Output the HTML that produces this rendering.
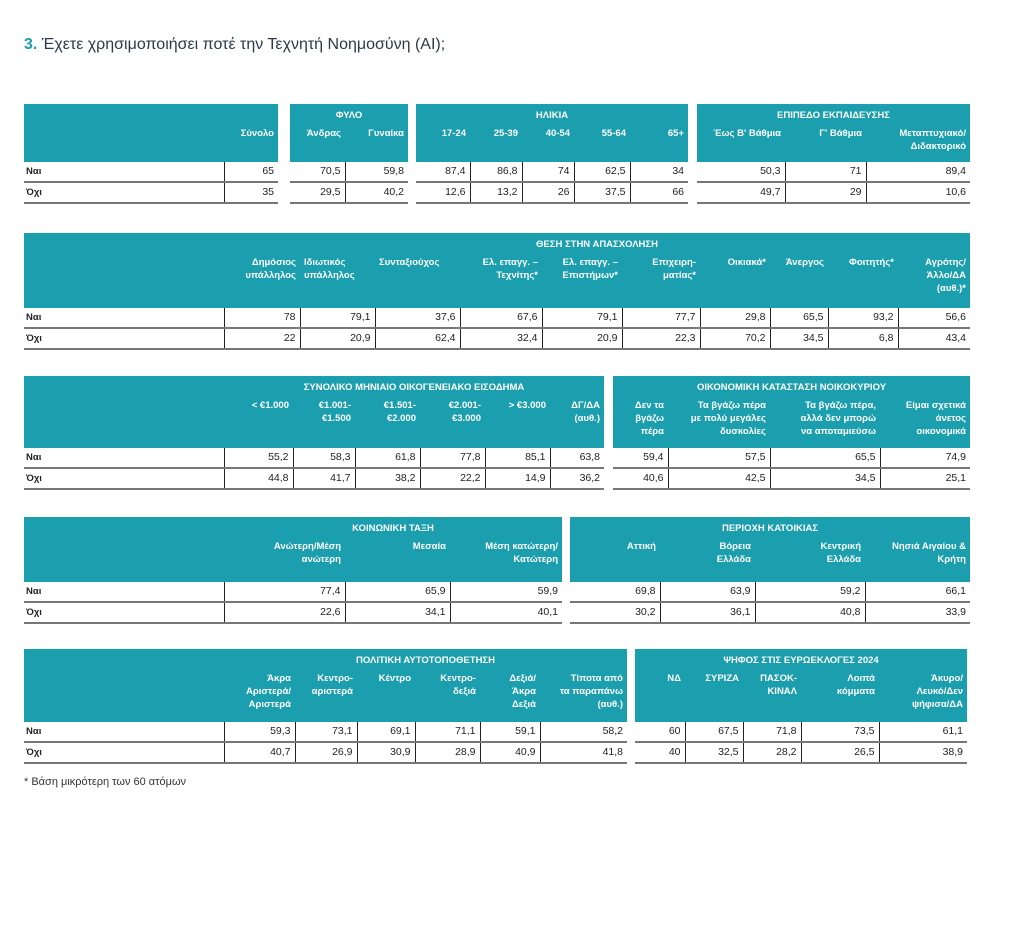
<!DOCTYPE html><html><head><meta charset="utf-8"><style>
body{margin:0;width:1024px;height:933px;background:#fff;font-family:"Liberation Sans","DejaVu Sans",sans-serif;position:relative;overflow:hidden}
.t{position:absolute;border-collapse:collapse;table-layout:fixed;font-size:10.5px;color:#222}
.t th{background:#1b9ead;color:#fff;font-weight:bold;font-size:9.5px;text-align:right;vertical-align:top;padding:4px 4px 0 4px;line-height:13px}
.t th.ti{text-align:center;padding-top:5px;height:14px;vertical-align:top}
.t td{height:19px;border-bottom:2px solid #777;border-left:1px solid #222;text-align:right;padding:0 4px;line-height:19px}
.t td:first-child{border-left:none}
.t td.l{text-align:left;font-weight:bold;font-size:9.5px;padding-left:2px}
.ttl{position:absolute;left:24px;top:36px;font-size:16px;color:#2a3a4a}
.ttl b{color:#1b9ead}
.fn{position:absolute;left:24px;top:776px;font-size:11px;color:#333}
</style></head><body>
<div class="ttl"><b>3.</b> Έχετε χρησιμοποιήσει ποτέ την Τεχνητή Νοημοσύνη (AI);</div>

<table class="t" style="left:24px;top:104px;width:254px"><colgroup><col style="width:200px"><col></colgroup>
<tr><th class="ti" colspan="2"></th></tr><tr><th style="height:35px"></th><th>Σύνολο</th></tr>
<tr><td class="l">Ναι</td><td>65</td></tr><tr><td class="l">Όχι</td><td>35</td></tr></table>
<table class="t" style="left:290px;top:104px;width:118px"><colgroup><col style="width:55px"><col></colgroup>
<tr><th class="ti" colspan="2">ΦΥΛΟ</th></tr><tr><th style="height:35px">Άνδρας</th><th>Γυναίκα</th></tr>
<tr><td>70,5</td><td>59,8</td></tr><tr><td>29,5</td><td>40,2</td></tr></table>
<table class="t" style="left:416px;top:104px;width:272px"><colgroup><col style="width:54px"><col style="width:52px"><col style="width:52px"><col style="width:56px"><col></colgroup>
<tr><th class="ti" colspan="5">ΗΛΙΚΙΑ</th></tr><tr><th style="height:35px">17-24</th><th>25-39</th><th>40-54</th><th>55-64</th><th>65+</th></tr>
<tr><td>87,4</td><td>86,8</td><td>74</td><td>62,5</td><td>34</td></tr><tr><td>12,6</td><td>13,2</td><td>26</td><td>37,5</td><td>66</td></tr></table>
<table class="t" style="left:697px;top:104px;width:273px"><colgroup><col style="width:88px"><col style="width:81px"><col></colgroup>
<tr><th class="ti" colspan="3">ΕΠΙΠΕΔΟ ΕΚΠΑΙΔΕΥΣΗΣ</th></tr><tr><th style="height:35px">Έως Β' Βάθμια</th><th>Γ' Βάθμια</th><th>Μεταπτυχιακό/<br>Διδακτορικό</th></tr>
<tr><td>50,3</td><td>71</td><td>89,4</td></tr><tr><td>49,7</td><td>29</td><td>10,6</td></tr></table>

<table class="t" style="left:24px;top:233px;width:946px"><colgroup><col style="width:200px"><col style="width:76px"><col style="width:75px"><col style="width:85px"><col style="width:82px"><col style="width:80px"><col style="width:78px"><col style="width:70px"><col style="width:58px"><col style="width:70px"><col></colgroup>
<tr><th class="ti"></th><th class="ti" colspan="10">ΘΕΣΗ ΣΤΗΝ ΑΠΑΣΧΟΛΗΣΗ</th></tr>
<tr><th style="height:52px"></th><th>Δημόσιος<br>υπάλληλος</th><th style="text-align:left">Ιδιωτικός<br>υπάλληλος</th><th style="text-align:left">Συνταξιούχος</th><th>Ελ. επαγγ. –<br>Τεχνίτης*</th><th>Ελ. επαγγ. –<br>Επιστήμων*</th><th>Επιχειρη-<br>ματίας*</th><th>Οικιακά*</th><th>Άνεργος</th><th>Φοιτητής*</th><th>Αγρότης/<br>Άλλο/ΔΑ<br>(αυθ.)*</th></tr>
<tr><td class="l">Ναι</td><td>78</td><td>79,1</td><td>37,6</td><td>67,6</td><td>79,1</td><td>77,7</td><td>29,8</td><td>65,5</td><td>93,2</td><td>56,6</td></tr>
<tr><td class="l">Όχι</td><td>22</td><td>20,9</td><td>62,4</td><td>32,4</td><td>20,9</td><td>22,3</td><td>70,2</td><td>34,5</td><td>6,8</td><td>43,4</td></tr></table>

<table class="t" style="left:24px;top:376px;width:580px"><colgroup><col style="width:200px"><col style="width:69px"><col style="width:62px"><col style="width:65px"><col style="width:65px"><col style="width:65px"><col></colgroup>
<tr><th class="ti"></th><th class="ti" colspan="6">ΣΥΝΟΛΙΚΟ ΜΗΝΙΑΙΟ ΟΙΚΟΓΕΝΕΙΑΚΟ ΕΙΣΟΔΗΜΑ</th></tr>
<tr><th style="height:49px"></th><th>&lt; €1.000</th><th>€1.001-<br>€1.500</th><th>€1.501-<br>€2.000</th><th>€2.001-<br>€3.000</th><th>&gt; €3.000</th><th>ΔΓ/ΔΑ<br>(αυθ.)</th></tr>
<tr><td class="l">Ναι</td><td>55,2</td><td>58,3</td><td>61,8</td><td>77,8</td><td>85,1</td><td>63,8</td></tr>
<tr><td class="l">Όχι</td><td>44,8</td><td>41,7</td><td>38,2</td><td>22,2</td><td>14,9</td><td>36,2</td></tr></table>
<table class="t" style="left:613px;top:376px;width:357px"><colgroup><col style="width:55px"><col style="width:102px"><col style="width:110px"><col></colgroup>
<tr><th class="ti" colspan="4">ΟΙΚΟΝΟΜΙΚΗ ΚΑΤΑΣΤΑΣΗ ΝΟΙΚΟΚΥΡΙΟΥ</th></tr>
<tr><th style="height:49px">Δεν τα<br>βγάζω<br>πέρα</th><th>Τα βγάζω πέρα<br>με πολύ μεγάλες<br>δυσκολίες</th><th>Τα βγάζω πέρα,<br>αλλά δεν μπορώ<br>να αποταμιεύσω</th><th>Είμαι σχετικά<br>άνετος<br>οικονομικά</th></tr>
<tr><td>59,4</td><td>57,5</td><td>65,5</td><td>74,9</td></tr><tr><td>40,6</td><td>42,5</td><td>34,5</td><td>25,1</td></tr></table>

<table class="t" style="left:24px;top:517px;width:538px"><colgroup><col style="width:200px"><col style="width:121px"><col style="width:105px"><col></colgroup>
<tr><th class="ti"></th><th class="ti" colspan="3">ΚΟΙΝΩΝΙΚΗ ΤΑΞΗ</th></tr>
<tr><th style="height:42px"></th><th>Ανώτερη/Μέση<br>ανώτερη</th><th>Μεσαία</th><th>Μέση κατώτερη/<br>Κατώτερη</th></tr>
<tr><td class="l">Ναι</td><td>77,4</td><td>65,9</td><td>59,9</td></tr><tr><td class="l">Όχι</td><td>22,6</td><td>34,1</td><td>40,1</td></tr></table>
<table class="t" style="left:570px;top:517px;width:400px"><colgroup><col style="width:90px"><col style="width:95px"><col style="width:110px"><col></colgroup>
<tr><th class="ti" colspan="4">ΠΕΡΙΟΧΗ ΚΑΤΟΙΚΙΑΣ</th></tr>
<tr><th style="height:42px">Αττική</th><th>Βόρεια<br>Ελλάδα</th><th>Κεντρική<br>Ελλάδα</th><th>Νησιά Αιγαίου &amp;<br>Κρήτη</th></tr>
<tr><td>69,8</td><td>63,9</td><td>59,2</td><td>66,1</td></tr><tr><td>30,2</td><td>36,1</td><td>40,8</td><td>33,9</td></tr></table>

<table class="t" style="left:24px;top:649px;width:603px"><colgroup><col style="width:200px"><col style="width:71px"><col style="width:62px"><col style="width:58px"><col style="width:65px"><col style="width:60px"><col></colgroup>
<tr><th class="ti"></th><th class="ti" colspan="6">ΠΟΛΙΤΙΚΗ ΑΥΤΟΤΟΠΟΘΕΤΗΣΗ</th></tr>
<tr><th style="height:50px"></th><th>Άκρα<br>Αριστερά/<br>Αριστερά</th><th>Κεντρο-<br>αριστερά</th><th>Κέντρο</th><th>Κεντρο-<br>δεξιά</th><th>Δεξιά/<br>Άκρα<br>Δεξιά</th><th>Τίποτα από<br>τα παραπάνω<br>(αυθ.)</th></tr>
<tr><td class="l">Ναι</td><td>59,3</td><td>73,1</td><td>69,1</td><td>71,1</td><td>59,1</td><td>58,2</td></tr>
<tr><td class="l">Όχι</td><td>40,7</td><td>26,9</td><td>30,9</td><td>28,9</td><td>40,9</td><td>41,8</td></tr></table>
<table class="t" style="left:635px;top:649px;width:332px"><colgroup><col style="width:50px"><col style="width:58px"><col style="width:58px"><col style="width:78px"><col></colgroup>
<tr><th class="ti" colspan="5">ΨΗΦΟΣ ΣΤΙΣ ΕΥΡΩΕΚΛΟΓΕΣ 2024</th></tr>
<tr><th style="height:50px">ΝΔ</th><th>ΣΥΡΙΖΑ</th><th>ΠΑΣΟΚ-<br>ΚΙΝΑΛ</th><th>Λοιπά<br>κόμματα</th><th>Άκυρο/<br>Λευκό/Δεν<br>ψήφισα/ΔΑ</th></tr>
<tr><td>60</td><td>67,5</td><td>71,8</td><td>73,5</td><td>61,1</td></tr><tr><td>40</td><td>32,5</td><td>28,2</td><td>26,5</td><td>38,9</td></tr></table>

<div class="fn">* Βάση μικρότερη των 60 ατόμων</div>
</body></html>
